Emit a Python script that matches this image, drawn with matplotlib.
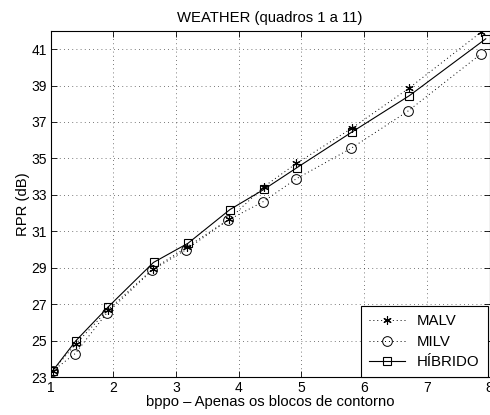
import matplotlib
matplotlib.use("Agg")
import matplotlib.pyplot as plt

plt.rcParams['font.family'] = ['Liberation Sans', 'DejaVu Sans']

# valores
x_malv = [1.03, 1.40, 1.91, 2.63, 3.18, 3.85, 4.40, 4.92, 5.80, 6.71, 7.86]
y_malv = [23.35, 24.83, 26.69, 28.94, 30.16, 31.68, 33.45, 34.73, 36.65, 38.84, 41.91]

x_milv = [1.03, 1.39, 1.89, 2.62, 3.16, 3.83, 4.39, 4.91, 5.79, 6.70, 7.86]
y_milv = [23.35, 24.30, 26.50, 28.88, 30.00, 31.62, 32.63, 33.87, 35.55, 37.60, 40.72]

x_hib = [1.03, 1.40, 1.92, 2.64, 3.19, 3.86, 4.40, 4.93, 5.81, 6.72, 7.94]
y_hib = [23.35, 25.00, 26.87, 29.30, 30.35, 32.20, 33.30, 34.50, 36.46, 38.44, 41.56]

xticks = [1, 2, 3, 4, 5, 6, 7, 8]
yticks = [23, 25, 27, 29, 31, 33, 35, 37, 39, 41]

fig = plt.figure(figsize=(4.9, 4.15), dpi=100)
ax = fig.add_axes([0.1035, 0.0908, 0.8955, 0.835])

dots = (0, (1, 3))
ax.plot(x_malv, y_malv, linestyle=dots, color='k', lw=0.7, marker=(6, 2, 0), ms=6, mec='k', mew=0.8, label='MALV')
ax.plot(x_milv, y_milv, linestyle=dots, color='k', lw=0.7, marker='o', ms=7, mfc='none', mec='k', mew=0.7, label='MILV')
ax.plot(x_hib, y_hib, '-', color='k', lw=0.8, marker='s', ms=6, mfc='none', mec='k', mew=0.8, label='HÍBRIDO')

ax.set_xlim(1, 8)
ax.set_ylim(23, 42)
ax.set_xticks(xticks)
ax.set_yticks(yticks)
ax.tick_params(direction='in', top=True, right=True, labelsize=10, length=4, width=0.6, pad=3)
ax.grid(True, linestyle=(0, (1, 4)), color='k', lw=0.6, alpha=0.7)
for s in ax.spines.values():
    s.set_linewidth(0.8)

ax.set_title('WEATHER (quadros 1 a 11)', fontsize=10.7, pad=6)
ax.set_xlabel('bppo – Apenas os blocos de contorno', fontsize=10.7, labelpad=0)
ax.set_ylabel('RPR (dB)', fontsize=10.7, labelpad=1)

leg = ax.legend(loc='lower right', bbox_to_anchor=(0.996, 0.0), fontsize=10.8, fancybox=False,
                framealpha=1, edgecolor='k', borderaxespad=0, handlelength=2.4,
                handletextpad=0.8, labelspacing=0.42, borderpad=0.55)
leg.get_frame().set_linewidth(0.8)

fig.savefig('out.png', dpi=100)
